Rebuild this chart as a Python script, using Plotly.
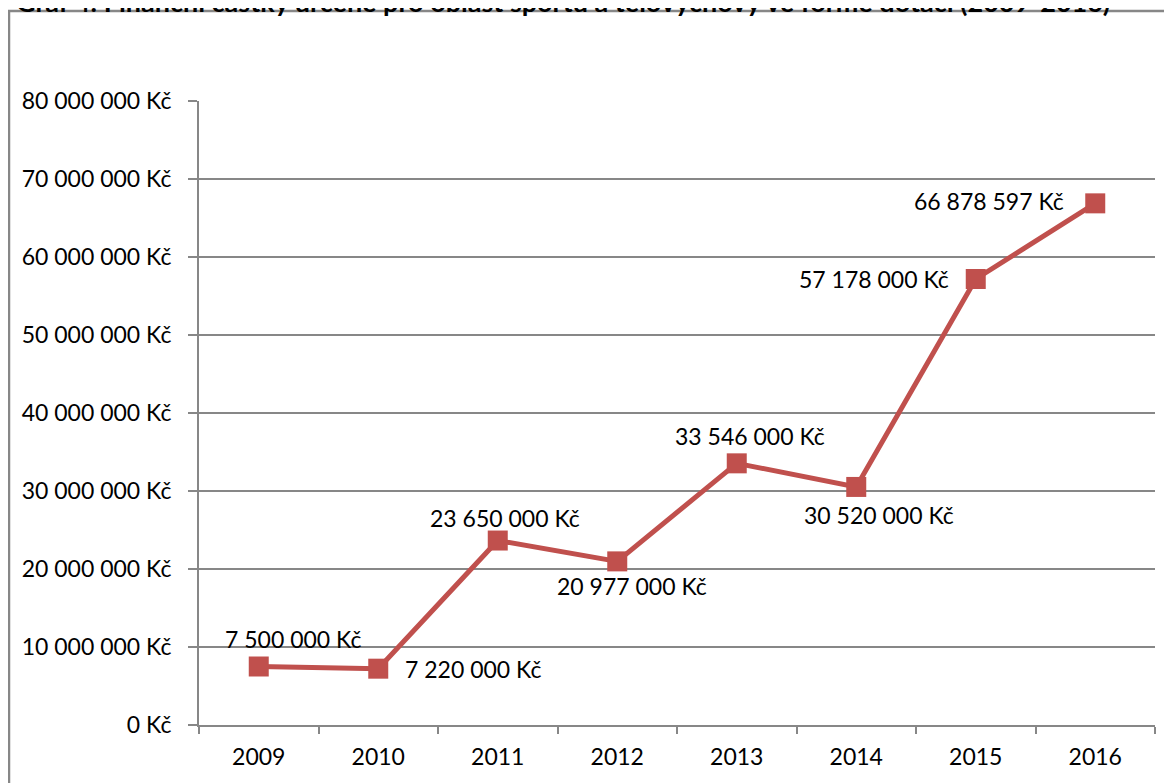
import plotly.graph_objects as go

years = ["2009", "2010", "2011", "2012", "2013", "2014", "2015", "2016"]
values = [7500000, 7220000, 23650000, 20977000, 33546000, 30520000, 57178000, 66878597]
y_ticks = [0, 10000000, 20000000, 30000000, 40000000, 50000000, 60000000, 70000000, 80000000]
title_text = "Graf 4: Finanční částky určené pro oblast sportu a tělovýchovy ve formě dotací (2009-2016)"

# label placement (style): anchor, x shift, y shift in pixels relative to the point
label_style = [
    ("center", 34, 28),
    ("left", 25, 0),
    ("center", 7, 23),
    ("center", 15, -25),
    ("center", 13, 27),
    ("center", 23, -28),
    ("right", -25, 0),
    ("right", -29, 2),
]

def fmt(v):
    return "{:,}".format(v).replace(",", " ") + " Kč"

FONT = "Lato"
RED = "#C0504D"
GRAY = "#878787"

fig = go.Figure()
fig.add_trace(go.Scatter(
    x=years, y=values, mode="lines+markers",
    line=dict(color=RED, width=5),
    marker=dict(symbol="square", size=20, color=RED),
    cliponaxis=False,
    showlegend=False,
))

W, H = 1172, 783
OFF = 8  # page body margin
L, R, T, B = 191, 25, 93, 66
pw, ph = W - L - R, H - T - B

def px_x(sx):
    return (sx - OFF - L) / pw

def px_y(sy):
    return (H - B - (sy - OFF)) / ph

annotations = [dict(
    text="<b>" + title_text + "</b>", xref="paper", yref="paper",
    x=px_x(563), y=px_y(2), xanchor="center", yanchor="middle",
    showarrow=False, font=dict(family=FONT, size=27, color="black"),
)]
for i, (v, (anc, dx, dy)) in enumerate(zip(values, label_style)):
    annotations.append(dict(
        x=i, y=v, xref="x", yref="y", text=fmt(v), showarrow=False,
        xanchor=anc, yanchor="middle", xshift=dx, yshift=dy,
        font=dict(family=FONT, size=23, color="black"),
    ))

fig.update_layout(
    width=W, height=H,
    margin=dict(l=L, r=R, t=T, b=B),
    paper_bgcolor="white", plot_bgcolor="white",
    font=dict(family=FONT, size=23, color="black"),
    xaxis=dict(
        type="category", categoryorder="array", categoryarray=years,
        range=[-0.5, len(years) - 0.5],
        showgrid=False, showline=True, linecolor=GRAY, linewidth=2,
        ticks="outside", tickson="boundaries", ticklen=7, tickcolor=GRAY, tickwidth=2,
        tickfont=dict(family=FONT, size=23, color="black"), tickangle=0,
        ticklabelstandoff=10, fixedrange=True,
    ),
    yaxis=dict(
        range=[0, 80000000], tickvals=y_ticks,
        ticktext=[fmt(v) for v in y_ticks],
        showgrid=True, gridcolor=GRAY, gridwidth=1.5,
        showline=True, linecolor=GRAY, linewidth=2,
        ticks="outside", ticklen=9, tickcolor=GRAY, tickwidth=2,
        tickfont=dict(family=FONT, size=23, color="black"),
        ticklabelstandoff=12, zeroline=False, fixedrange=True,
    ),
    shapes=[dict(
        type="rect", xref="paper", yref="paper",
        x0=px_x(9), x1=px_x(1400), y0=px_y(1000), y1=px_y(11),
        line=dict(color=GRAY, width=2.5), fillcolor="rgba(0,0,0,0)", layer="below",
    )],
    annotations=annotations,
)

fig.write_html("out.html")
